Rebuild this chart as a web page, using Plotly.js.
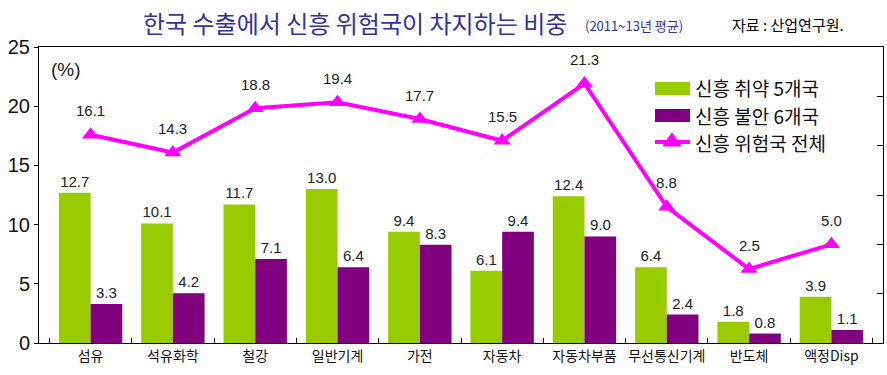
<!DOCTYPE html>
<html>
<head>
<meta charset="utf-8">
<script src="https://cdn.plot.ly/plotly-3.0.1.min.js"></script>
<style>html,body{margin:0;padding:0;background:#fff;}#chart{width:887px;height:375px;}</style>
</head>
<body>
<div id="chart"></div>
<script>
const categories = ['섬유','석유화학','철강','일반기계','가전','자동차','자동차부품','무선통신기계','반도체','액정Disp'];
const weak5 = [12.7, 10.1, 11.7, 13.0, 9.4, 6.1, 12.4, 6.4, 1.8, 3.9];
const unstable6 = [3.3, 4.2, 7.1, 6.4, 8.3, 9.4, 9.0, 2.4, 0.8, 1.1];
const riskTotal = [16.1, 14.3, 18.8, 19.4, 17.7, 15.5, 21.3, 8.8, 2.5, 5.0];
const seriesNames = ['신흥 취약 5개국', '신흥 불안 6개국', '신흥 위험국 전체'];
const yTicks = [0, 5, 10, 15, 20, 25];
const chartTitle = '한국 수출에서 신흥 위험국이 차지하는 비중';
const subTitle = '(2011~13년 평균)';
const sourceNote = '자료 : 산업연구원.';

const GREEN = '#99CC00', PURPLE = '#800080', MAGENTA = '#FF00FF';
const NUM_FONT = 'Liberation Sans, Arial, sans-serif';
const KR_FONT = 'Noto Sans CJK KR, sans-serif';

// plot-area pixel geometry helpers (for legend / titles only)
const L = 39, R = 4, T = 47, B = 32, W = 887, H = 375;
const pw = W - L - R, ph = H - T - B;
const px = x => (x - L) / pw;
const py = y => (H - B - y) / ph;

const traces = [
  {
    type: 'bar', name: seriesNames[0], x: categories, y: weak5,
    marker: {color: GREEN},
    text: weak5.map(v => v.toFixed(1)), textposition: 'outside',
    textfont: {family: NUM_FONT, size: 15, color: '#222'},
    constraintext: 'none', cliponaxis: false, showlegend: false, hoverinfo: 'y'
  },
  {
    type: 'bar', name: seriesNames[1], x: categories, y: unstable6,
    marker: {color: PURPLE},
    text: unstable6.map(v => v.toFixed(1)), textposition: 'outside',
    textfont: {family: NUM_FONT, size: 15, color: '#222'},
    constraintext: 'none', cliponaxis: false, showlegend: false, hoverinfo: 'y'
  },
  {
    type: 'scatter', mode: 'lines+markers', name: seriesNames[2],
    x: categories, y: riskTotal, yaxis: 'y2',
    line: {color: MAGENTA, width: 4},
    marker: {symbol: 'triangle-up', size: 15, color: MAGENTA},
    cliponaxis: false, showlegend: false, hoverinfo: 'y'
  }
];

const annotations = riskTotal.map((v, i) => ({
  x: categories[i], y: v, xref: 'x', yref: 'y2', yshift: 24,
  text: v.toFixed(1), showarrow: false,
  font: {family: NUM_FONT, size: 15, color: '#222'}
}));

annotations.push(
  {xref: 'paper', yref: 'paper', x: px(141), y: py(23), xanchor: 'left', yanchor: 'middle',
   text: chartTitle, showarrow: false, font: {family: KR_FONT, size: 24, color: '#333399'}},
  {xref: 'paper', yref: 'paper', x: px(583), y: py(26), xanchor: 'left', yanchor: 'middle',
   text: subTitle, showarrow: false, font: {family: KR_FONT, size: 13, color: '#333399'}},
  {xref: 'paper', yref: 'paper', x: px(730), y: py(25), xanchor: 'left', yanchor: 'middle',
   text: sourceNote, showarrow: false, font: {family: KR_FONT, size: 15, color: '#000'}},
  {xref: 'paper', yref: 'paper', x: px(49), y: py(69), xanchor: 'left', yanchor: 'middle',
   text: '(%)', showarrow: false, font: {family: NUM_FONT, size: 19, color: '#222'}}
);

// custom legend labels
const legY = [87.5, 115, 142.5];
seriesNames.forEach((n, i) => {
  annotations.push({xref: 'paper', yref: 'paper', x: px(694), y: py(legY[i]), xanchor: 'left', yanchor: 'middle',
    text: n, showarrow: false, borderpad: 0, font: {family: KR_FONT, size: 19, color: '#111'}});
});

const shapes = [
  {type: 'rect', xref: 'paper', yref: 'paper', x0: px(655), x1: px(690), y0: py(95), y1: py(82),
   fillcolor: GREEN, line: {width: 0}},
  {type: 'rect', xref: 'paper', yref: 'paper', x0: px(655), x1: px(690), y0: py(122), y1: py(109),
   fillcolor: PURPLE, line: {width: 0}},
  {type: 'line', xref: 'paper', yref: 'paper', x0: px(655), x1: px(690), y0: py(142), y1: py(142),
   line: {color: MAGENTA, width: 4}},
  {type: 'path', xref: 'paper', yref: 'paper',
   path: `M ${px(663)} ${py(146)} L ${px(681)} ${py(146)} L ${px(672)} ${py(133)} Z`,
   fillcolor: MAGENTA, line: {color: MAGENTA, width: 1}}
];

const layout = {
  width: W, height: H,
  margin: {l: L, r: R, t: T, b: B},
  paper_bgcolor: '#fff', plot_bgcolor: '#fff',
  barmode: 'group', bargap: 0.23, bargroupgap: 0,
  showlegend: false,
  xaxis: {
    type: 'category', showline: true, linecolor: '#000', linewidth: 1, mirror: true,
    ticks: 'inside', ticklen: 5, tickcolor: '#000', tickson: 'boundaries',
    tickangle: 0, automargin: false,
    showgrid: false, zeroline: false,
    tickfont: {family: KR_FONT, size: 14, color: '#111'},
    fixedrange: true
  },
  yaxis: {
    range: [0, 25], tickvals: yTicks, ticktext: yTicks.map(String),
    showline: true, linecolor: '#000', linewidth: 1,
    ticks: 'outside', ticklen: 4, tickcolor: '#000',
    showgrid: false, zeroline: false,
    tickfont: {family: NUM_FONT, size: 20, color: '#111'},
    fixedrange: true
  },
  yaxis2: {
    overlaying: 'y', side: 'right', range: [-5, 25], dtick: 5, tick0: 0,
    showline: true, linecolor: '#000', linewidth: 1,
    ticks: 'inside', ticklen: 6, tickcolor: '#000',
    showticklabels: false, showgrid: false, zeroline: false,
    fixedrange: true
  },
  annotations: annotations,
  shapes: shapes
};

Plotly.newPlot('chart', traces, layout, {displayModeBar: false, staticPlot: true});
</script>
</body>
</html>
